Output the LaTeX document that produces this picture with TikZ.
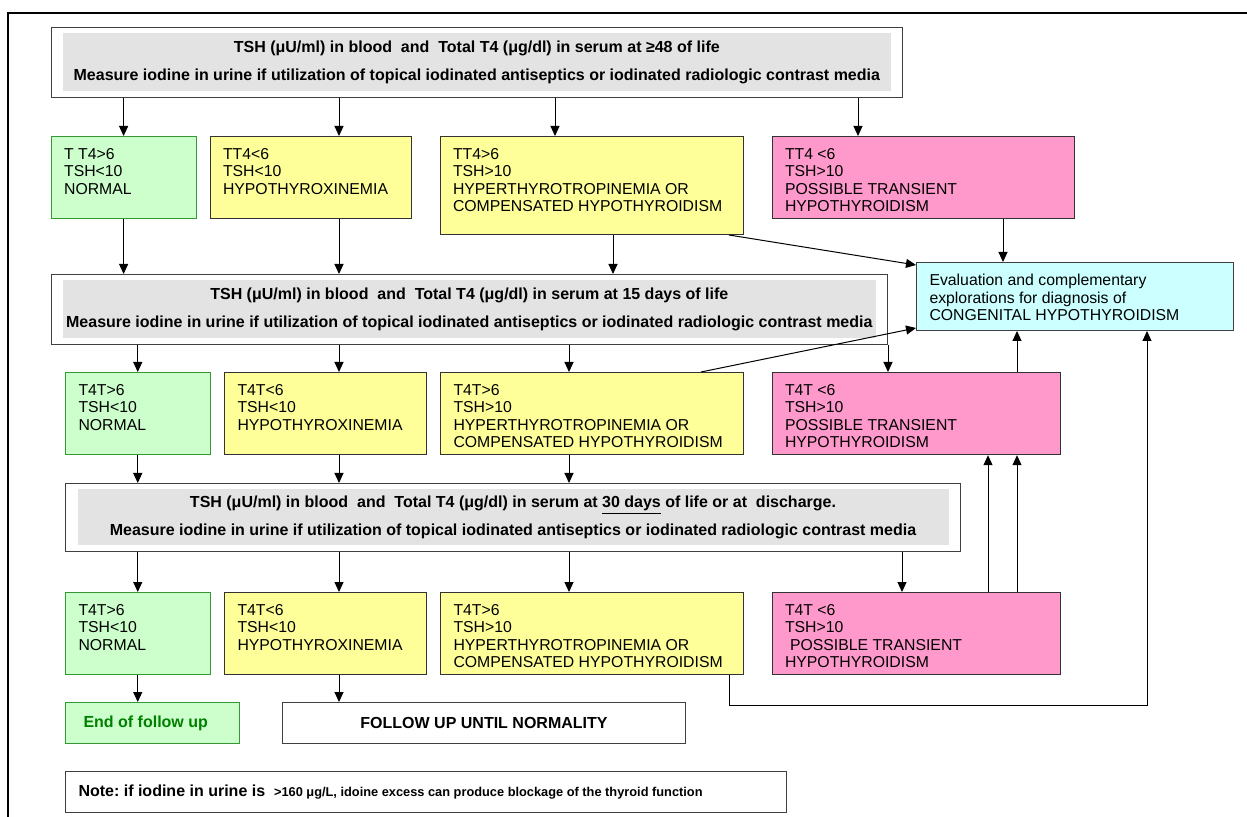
\documentclass[tikz,border=0pt]{standalone}
\usepackage{fontspec}
\setmainfont{Liberation Sans}
\usetikzlibrary{arrows.meta,calc}
\frenchspacing

\definecolor{okgreen}{RGB}{204,255,204}
\definecolor{okedge}{RGB}{51,153,51}
\definecolor{endtext}{RGB}{0,128,0}
\definecolor{warnyellow}{RGB}{255,255,153}
\definecolor{alertpink}{RGB}{255,153,204}
\definecolor{evalcyan}{RGB}{204,255,255}
\definecolor{headgray}{RGB}{227,227,227}
\definecolor{edgegray}{RGB}{64,64,64}

\newcommand{\celltext}[3]{\parbox[t][#2][t]{#1}{\raggedright #3}}

\tikzset{
  cell/.style={draw=edgegray, line width=0.5pt, anchor=north west, inner xsep=6.5pt, inner ysep=5.8pt, font=\fontsize{7.9}{8.8}\selectfont},
  okbox/.style={cell, draw=okedge, fill=okgreen},
  warnbox/.style={cell, draw=black!80, fill=warnyellow},
  alertbox/.style={cell, draw=black!80, fill=alertpink},
  evalbox/.style={cell, draw=edgegray, fill=evalcyan},
  headbox/.style={draw=edgegray, line width=0.5pt, anchor=north west, align=center, font=\bfseries\fontsize{8}{14}\selectfont,
    path picture={\fill[headgray] ([shift={(6pt,-3pt)}]path picture bounding box.north west) rectangle ([shift={(-6pt,3pt)}]path picture bounding box.south east);}},
  plainbox/.style={draw=edgegray, line width=0.5pt, anchor=north west, minimum height=20.5pt, font=\bfseries\fontsize{8}{10}\selectfont},
  arr/.style={-{Triangle[length=5pt,width=4.5pt]}, line width=0.5pt}
}

\begin{document}
\begin{tikzpicture}[x=0.5pt,y=-0.5pt]
		%%%%% START %%%%%
		\useasboundingbox (0,0) rectangle (1247,817);
		\draw[line width=1.4pt] (8,817) -- (8,13) -- (1247,13);
		
		% arrow columns
		\coordinate (cH) at (339,0);
		\coordinate (cY) at (555,0);
		\coordinate (cY2) at (613,0);
		\coordinate (cP) at (858,0);
		\coordinate (cE) at (1003,0);
		\coordinate (cD) at (729,0);
		\coordinate (cM) at (569,0);
		\coordinate (cU) at (701,0);
		\coordinate (cF) at (1017,0);
		\coordinate (cK) at (902,0);
		\coordinate (cL) at (988,0);
		\coordinate (cR) at (1147,0);
		
		% 48 hours
		\node[headbox, minimum width=425.7pt, minimum height=35pt] (hd1) at (50.6,27)
			{TSH (μU/ml) in blood~ and~ Total T4 (μg/dl) in serum at ≥48 of life\\
			 Measure iodine in urine if utilization of topical iodinated antiseptics or iodinated radiologic contrast media};
		\node[okbox] (nm1) at (50.6,136) {\celltext{59.5pt}{29.5pt}{T T4>6\\TSH<10\\NORMAL}};
		\node[warnbox] (hx1) at (209.5,136) {\celltext{87.75pt}{29.5pt}{TT4<6\\TSH<10\\HYPOTHYROXINEMIA}};
		\node[warnbox] (hy1) at (439.5,136) {\celltext{138.75pt}{37.4pt}{TT4>6\\TSH>10\\HYPERTHYROTROPINEMIA OR\\COMPENSATED HYPOTHYROIDISM}};
		\node[alertbox] (pt1) at (771.5,136) {\celltext{138.25pt}{29.5pt}{TT4 <6\\TSH>10\\POSSIBLE TRANSIENT\\HYPOTHYROIDISM}};
		
		\node[evalbox] (ev) at (916,262) {\celltext{145.5pt}{22.4pt}{Evaluation and complementary\\explorations for diagnosis of\\CONGENITAL HYPOTHYROIDISM}};
		
		% 15 days
		\node[headbox, minimum width=418.2pt, minimum height=35pt] (hd2) at (50.6,274)
			{TSH (μU/ml) in blood~ and~ Total T4 (μg/dl) in serum at 15 days of life\\
			 Measure iodine in urine if utilization of topical iodinated antiseptics or iodinated radiologic contrast media};
		\node[okbox] (nm2) at (65,372) {\celltext{59.25pt}{29.5pt}{T4T>6\\TSH<10\\NORMAL}};
		\node[warnbox] (hx2) at (224,372) {\celltext{88pt}{29.5pt}{T4T<6\\TSH<10\\HYPOTHYROXINEMIA}};
		\node[warnbox] (hy2) at (440,372) {\celltext{138.5pt}{29.5pt}{T4T>6\\TSH>10\\HYPERTHYROTROPINEMIA OR\\COMPENSATED HYPOTHYROIDISM}};
		\node[alertbox] (pt2) at (771.5,372) {\celltext{131.25pt}{29.5pt}{T4T <6\\TSH>10\\POSSIBLE TRANSIENT\\HYPOTHYROIDISM}};
		
		% 30 days
		\node[headbox, minimum width=447.5pt, minimum height=34pt] (hd3) at (65,483)
			{TSH (μU/ml) in blood~ and~ Total T4 (μg/dl) in serum at \underline{30 days} of life or at~ discharge.\\
			 Measure iodine in urine if utilization of topical iodinated antiseptics or iodinated radiologic contrast media};
		\node[okbox] (nm3) at (65,592) {\celltext{59.25pt}{29.5pt}{T4T>6\\TSH<10\\NORMAL}};
		\node[warnbox] (hx3) at (224,592) {\celltext{88pt}{29.5pt}{T4T<6\\TSH<10\\HYPOTHYROXINEMIA}};
		\node[warnbox] (hy3) at (440,592) {\celltext{138.5pt}{29.5pt}{T4T>6\\TSH>10\\HYPERTHYROTROPINEMIA OR\\COMPENSATED HYPOTHYROIDISM}};
		\node[alertbox] (pt3) at (771.5,592) {\celltext{131.25pt}{29.5pt}{T4T <6\\TSH>10\\\hspace{2.5pt}POSSIBLE TRANSIENT\\HYPOTHYROIDISM}};
		
		\node[plainbox, draw=okedge, fill=okgreen, text=endtext, inner xsep=9pt, minimum width=87pt] (fin) at (65,702)
			{\parbox{69pt}{\raggedright End of follow up}};
		\node[plainbox, minimum width=201.5pt] (fup) at (282,702) {FOLLOW UP UNTIL NORMALITY};
		\node[plainbox, inner xsep=6.5pt, minimum width=360.5pt] (note) at (65,771)
			{\parbox{347.5pt}{\raggedright Note: if iodine in urine is~ {\fontsize{6.4}{7}\selectfont >160 μg/L, idoine excess can produce blockage of the thyroid function}}};
		
		% connectors
		\draw[arr] (hd1.south -| nm1.north) -- (nm1.north);
		\draw[arr] (hd1.south -| cH) -- (hx1.north -| cH);
		\draw[arr] (hd1.south -| cY) -- (hy1.north -| cY);
		\draw[arr] (hd1.south -| cP) -- (pt1.north -| cP);
		\draw[arr] (nm1.south) -- (hd2.north -| nm1.south);
		\draw[arr] (hx1.south -| cH) -- (hd2.north -| cH);
		\draw[arr] (hy1.south -| cY2) -- (hd2.north -| cY2);
		\draw[arr] (pt1.south -| cE) -- (ev.north -| cE);
		\draw[arr] (hy1.south -| cD) -- ([yshift=-1.5pt]ev.north west);
		
		\draw[arr] (hd2.south -| nm2.north) -- (nm2.north);
		\draw[arr] (hd2.south -| cH) -- (hx2.north -| cH);
		\draw[arr] (hd2.south -| cM) -- (hy2.north -| cM);
		\draw[arr] (hd2.south east) -- (pt2.north -| hd2.south east);
		\draw[arr] (hy2.north -| cU) -- ([yshift=1.5pt]ev.south west);
		\draw[arr] (pt2.north -| cF) -- (ev.south -| cF);
		\draw[arr] (nm2.south) -- (hd3.north -| nm2.south);
		\draw[arr] (hx2.south -| cH) -- (hd3.north -| cH);
		\draw[arr] (hy2.south -| cM) -- (hd3.north -| cM);
		
		\draw[arr] (hd3.south -| nm3.north) -- (nm3.north);
		\draw[arr] (hd3.south -| cH) -- (hx3.north -| cH);
		\draw[arr] (hd3.south -| cM) -- (hy3.north -| cM);
		\draw[arr] (hd3.south -| cK) -- (pt3.north -| cK);
		\draw[arr] (pt3.north -| cL) -- (pt2.south -| cL);
		\draw[arr] (pt3.north -| cF) -- (pt2.south -| cF);
		\draw[arr] (hy3.south -| cD) -- ++(0,30) -| (ev.south -| cR);
		\draw[arr] (nm3.south) -- (nm3.south |- fin.north);
		\draw[arr] (hx3.south -| cH) -- (fup.north -| cH);
		%%%%% END %%%%%
\end{tikzpicture}
\end{document}
